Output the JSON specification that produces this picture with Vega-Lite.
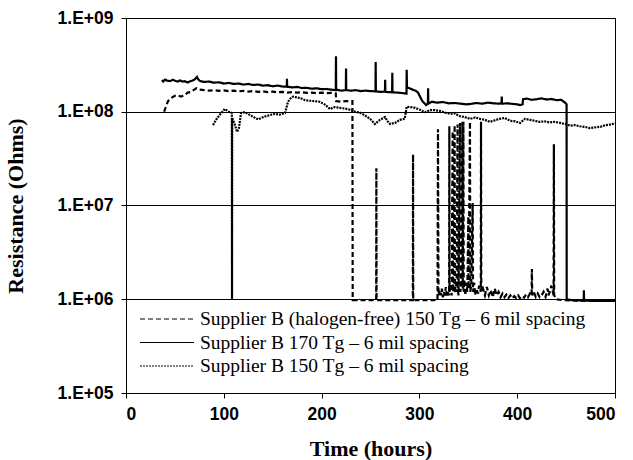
{
  "$schema": "https://vega.github.io/schema/vega-lite/v6.json",
  "width": 489,
  "height": 375,
  "autosize": {"type": "none"},
  "padding": {"left": 126, "top": 18, "right": 18, "bottom": 67},
  "background": "white",
  "config": {
    "view": {"stroke": "black", "strokeWidth": 1},
    "axis": {
      "domainColor": "black", "tickColor": "black", "labelColor": "black", "titleColor": "black",
      "labelFont": "Liberation Sans", "labelFontWeight": "bold", "labelFontSize": 17.5,
      "titleFont": "Liberation Serif", "titleFontWeight": "bold", "titleFontSize": 22,
      "tickSize": 5, "domainWidth": 1, "tickWidth": 1
    }
  },
  "data": {"values": [
    {"series":"Supplier B 170 Tg – 6 mil spacing","time":36.8,"resistance":2.18e8},
    {"series":"Supplier B 170 Tg – 6 mil spacing","time":38,"resistance":2.1e8},
    {"series":"Supplier B 170 Tg – 6 mil spacing","time":40,"resistance":2.2e8},
    {"series":"Supplier B 170 Tg – 6 mil spacing","time":42,"resistance":2.15e8},
    {"series":"Supplier B 170 Tg – 6 mil spacing","time":45,"resistance":2.12e8},
    {"series":"Supplier B 170 Tg – 6 mil spacing","time":48,"resistance":2.2e8},
    {"series":"Supplier B 170 Tg – 6 mil spacing","time":50,"resistance":2.14e8},
    {"series":"Supplier B 170 Tg – 6 mil spacing","time":53,"resistance":2.1e8},
    {"series":"Supplier B 170 Tg – 6 mil spacing","time":55,"resistance":2.16e8},
    {"series":"Supplier B 170 Tg – 6 mil spacing","time":58,"resistance":2.1e8},
    {"series":"Supplier B 170 Tg – 6 mil spacing","time":60,"resistance":2.12e8},
    {"series":"Supplier B 170 Tg – 6 mil spacing","time":63,"resistance":2.05e8},
    {"series":"Supplier B 170 Tg – 6 mil spacing","time":65,"resistance":2.1e8},
    {"series":"Supplier B 170 Tg – 6 mil spacing","time":68,"resistance":2.15e8},
    {"series":"Supplier B 170 Tg – 6 mil spacing","time":70,"resistance":2.2e8},
    {"series":"Supplier B 170 Tg – 6 mil spacing","time":72.6,"resistance":2.35e8},
    {"series":"Supplier B 170 Tg – 6 mil spacing","time":74,"resistance":2.2e8},
    {"series":"Supplier B 170 Tg – 6 mil spacing","time":76,"resistance":2.12e8},
    {"series":"Supplier B 170 Tg – 6 mil spacing","time":80,"resistance":2.08e8},
    {"series":"Supplier B 170 Tg – 6 mil spacing","time":85,"resistance":2.1e8},
    {"series":"Supplier B 170 Tg – 6 mil spacing","time":90,"resistance":2.04e8},
    {"series":"Supplier B 170 Tg – 6 mil spacing","time":95,"resistance":2.06e8},
    {"series":"Supplier B 170 Tg – 6 mil spacing","time":100,"resistance":2.0e8},
    {"series":"Supplier B 170 Tg – 6 mil spacing","time":105,"resistance":2.03e8},
    {"series":"Supplier B 170 Tg – 6 mil spacing","time":110,"resistance":1.98e8},
    {"series":"Supplier B 170 Tg – 6 mil spacing","time":115,"resistance":2.0e8},
    {"series":"Supplier B 170 Tg – 6 mil spacing","time":120,"resistance":1.95e8},
    {"series":"Supplier B 170 Tg – 6 mil spacing","time":125,"resistance":1.98e8},
    {"series":"Supplier B 170 Tg – 6 mil spacing","time":130,"resistance":1.93e8},
    {"series":"Supplier B 170 Tg – 6 mil spacing","time":135,"resistance":1.95e8},
    {"series":"Supplier B 170 Tg – 6 mil spacing","time":140,"resistance":1.9e8},
    {"series":"Supplier B 170 Tg – 6 mil spacing","time":145,"resistance":1.92e8},
    {"series":"Supplier B 170 Tg – 6 mil spacing","time":150,"resistance":1.87e8},
    {"series":"Supplier B 170 Tg – 6 mil spacing","time":155,"resistance":1.9e8},
    {"series":"Supplier B 170 Tg – 6 mil spacing","time":160,"resistance":1.86e8},
    {"series":"Supplier B 170 Tg – 6 mil spacing","time":164.4,"resistance":1.85e8},
    {"series":"Supplier B 170 Tg – 6 mil spacing","time":164.6,"resistance":2.25e8},
    {"series":"Supplier B 170 Tg – 6 mil spacing","time":164.8,"resistance":1.85e8},
    {"series":"Supplier B 170 Tg – 6 mil spacing","time":170,"resistance":1.82e8},
    {"series":"Supplier B 170 Tg – 6 mil spacing","time":175,"resistance":1.84e8},
    {"series":"Supplier B 170 Tg – 6 mil spacing","time":180,"resistance":1.79e8},
    {"series":"Supplier B 170 Tg – 6 mil spacing","time":185,"resistance":1.8e8},
    {"series":"Supplier B 170 Tg – 6 mil spacing","time":190,"resistance":1.76e8},
    {"series":"Supplier B 170 Tg – 6 mil spacing","time":195,"resistance":1.78e8},
    {"series":"Supplier B 170 Tg – 6 mil spacing","time":200,"resistance":1.74e8},
    {"series":"Supplier B 170 Tg – 6 mil spacing","time":205,"resistance":1.75e8},
    {"series":"Supplier B 170 Tg – 6 mil spacing","time":210,"resistance":1.72e8},
    {"series":"Supplier B 170 Tg – 6 mil spacing","time":214.5,"resistance":1.7e8},
    {"series":"Supplier B 170 Tg – 6 mil spacing","time":214.7,"resistance":3.9e8},
    {"series":"Supplier B 170 Tg – 6 mil spacing","time":214.9,"resistance":1.72e8},
    {"series":"Supplier B 170 Tg – 6 mil spacing","time":220,"resistance":1.68e8},
    {"series":"Supplier B 170 Tg – 6 mil spacing","time":224.8,"resistance":1.7e8},
    {"series":"Supplier B 170 Tg – 6 mil spacing","time":225,"resistance":2.9e8},
    {"series":"Supplier B 170 Tg – 6 mil spacing","time":225.2,"resistance":1.7e8},
    {"series":"Supplier B 170 Tg – 6 mil spacing","time":230,"resistance":1.68e8},
    {"series":"Supplier B 170 Tg – 6 mil spacing","time":235,"resistance":1.7e8},
    {"series":"Supplier B 170 Tg – 6 mil spacing","time":240,"resistance":1.66e8},
    {"series":"Supplier B 170 Tg – 6 mil spacing","time":245,"resistance":1.68e8},
    {"series":"Supplier B 170 Tg – 6 mil spacing","time":250,"resistance":1.66e8},
    {"series":"Supplier B 170 Tg – 6 mil spacing","time":255.1,"resistance":1.65e8},
    {"series":"Supplier B 170 Tg – 6 mil spacing","time":255.3,"resistance":3.4e8},
    {"series":"Supplier B 170 Tg – 6 mil spacing","time":255.5,"resistance":1.65e8},
    {"series":"Supplier B 170 Tg – 6 mil spacing","time":260,"resistance":1.63e8},
    {"series":"Supplier B 170 Tg – 6 mil spacing","time":264.8,"resistance":1.64e8},
    {"series":"Supplier B 170 Tg – 6 mil spacing","time":265,"resistance":2.2e8},
    {"series":"Supplier B 170 Tg – 6 mil spacing","time":265.2,"resistance":1.63e8},
    {"series":"Supplier B 170 Tg – 6 mil spacing","time":268,"resistance":1.62e8},
    {"series":"Supplier B 170 Tg – 6 mil spacing","time":272.1,"resistance":1.62e8},
    {"series":"Supplier B 170 Tg – 6 mil spacing","time":272.3,"resistance":2.6e8},
    {"series":"Supplier B 170 Tg – 6 mil spacing","time":272.5,"resistance":1.61e8},
    {"series":"Supplier B 170 Tg – 6 mil spacing","time":278,"resistance":1.6e8},
    {"series":"Supplier B 170 Tg – 6 mil spacing","time":283,"resistance":1.58e8},
    {"series":"Supplier B 170 Tg – 6 mil spacing","time":286.8,"resistance":1.56e8},
    {"series":"Supplier B 170 Tg – 6 mil spacing","time":287,"resistance":2.8e8},
    {"series":"Supplier B 170 Tg – 6 mil spacing","time":287.3,"resistance":1.82e8},
    {"series":"Supplier B 170 Tg – 6 mil spacing","time":290,"resistance":1.78e8},
    {"series":"Supplier B 170 Tg – 6 mil spacing","time":293,"resistance":1.72e8},
    {"series":"Supplier B 170 Tg – 6 mil spacing","time":296,"resistance":1.68e8},
    {"series":"Supplier B 170 Tg – 6 mil spacing","time":298.6,"resistance":1.6e8},
    {"series":"Supplier B 170 Tg – 6 mil spacing","time":300.6,"resistance":1.45e8},
    {"series":"Supplier B 170 Tg – 6 mil spacing","time":303,"resistance":1.3e8},
    {"series":"Supplier B 170 Tg – 6 mil spacing","time":306.8,"resistance":1.18e8},
    {"series":"Supplier B 170 Tg – 6 mil spacing","time":308.7,"resistance":1.22e8},
    {"series":"Supplier B 170 Tg – 6 mil spacing","time":308.9,"resistance":1.78e8},
    {"series":"Supplier B 170 Tg – 6 mil spacing","time":309.1,"resistance":1.22e8},
    {"series":"Supplier B 170 Tg – 6 mil spacing","time":312.9,"resistance":1.28e8},
    {"series":"Supplier B 170 Tg – 6 mil spacing","time":318,"resistance":1.25e8},
    {"series":"Supplier B 170 Tg – 6 mil spacing","time":324,"resistance":1.27e8},
    {"series":"Supplier B 170 Tg – 6 mil spacing","time":330,"resistance":1.23e8},
    {"series":"Supplier B 170 Tg – 6 mil spacing","time":336,"resistance":1.24e8},
    {"series":"Supplier B 170 Tg – 6 mil spacing","time":342,"resistance":1.22e8},
    {"series":"Supplier B 170 Tg – 6 mil spacing","time":348,"resistance":1.2e8},
    {"series":"Supplier B 170 Tg – 6 mil spacing","time":352,"resistance":1.21e8},
    {"series":"Supplier B 170 Tg – 6 mil spacing","time":358,"resistance":1.24e8},
    {"series":"Supplier B 170 Tg – 6 mil spacing","time":364,"resistance":1.22e8},
    {"series":"Supplier B 170 Tg – 6 mil spacing","time":370,"resistance":1.25e8},
    {"series":"Supplier B 170 Tg – 6 mil spacing","time":376,"resistance":1.23e8},
    {"series":"Supplier B 170 Tg – 6 mil spacing","time":382,"resistance":1.22e8},
    {"series":"Supplier B 170 Tg – 6 mil spacing","time":384,"resistance":1.24e8},
    {"series":"Supplier B 170 Tg – 6 mil spacing","time":384.2,"resistance":1.45e8},
    {"series":"Supplier B 170 Tg – 6 mil spacing","time":384.4,"resistance":1.22e8},
    {"series":"Supplier B 170 Tg – 6 mil spacing","time":390,"resistance":1.23e8},
    {"series":"Supplier B 170 Tg – 6 mil spacing","time":396,"resistance":1.21e8},
    {"series":"Supplier B 170 Tg – 6 mil spacing","time":400,"resistance":1.2e8},
    {"series":"Supplier B 170 Tg – 6 mil spacing","time":403,"resistance":1.18e8},
    {"series":"Supplier B 170 Tg – 6 mil spacing","time":405.5,"resistance":1.2e8},
    {"series":"Supplier B 170 Tg – 6 mil spacing","time":406,"resistance":1.36e8},
    {"series":"Supplier B 170 Tg – 6 mil spacing","time":410,"resistance":1.38e8},
    {"series":"Supplier B 170 Tg – 6 mil spacing","time":415,"resistance":1.34e8},
    {"series":"Supplier B 170 Tg – 6 mil spacing","time":420,"resistance":1.36e8},
    {"series":"Supplier B 170 Tg – 6 mil spacing","time":425,"resistance":1.39e8},
    {"series":"Supplier B 170 Tg – 6 mil spacing","time":430,"resistance":1.35e8},
    {"series":"Supplier B 170 Tg – 6 mil spacing","time":435,"resistance":1.37e8},
    {"series":"Supplier B 170 Tg – 6 mil spacing","time":440,"resistance":1.33e8},
    {"series":"Supplier B 170 Tg – 6 mil spacing","time":445,"resistance":1.34e8},
    {"series":"Supplier B 170 Tg – 6 mil spacing","time":449,"resistance":1.25e8},
    {"series":"Supplier B 170 Tg – 6 mil spacing","time":450.5,"resistance":1.2e8},
    {"series":"Supplier B 170 Tg – 6 mil spacing","time":450.6,"resistance":1.0e6},
    {"series":"Supplier B 170 Tg – 6 mil spacing","time":455,"resistance":9.8e5},
    {"series":"Supplier B 170 Tg – 6 mil spacing","time":460,"resistance":9.7e5},
    {"series":"Supplier B 170 Tg – 6 mil spacing","time":468,"resistance":9.7e5},
    {"series":"Supplier B 170 Tg – 6 mil spacing","time":468.2,"resistance":1.25e6},
    {"series":"Supplier B 170 Tg – 6 mil spacing","time":468.4,"resistance":9.7e5},
    {"series":"Supplier B 170 Tg – 6 mil spacing","time":480,"resistance":9.6e5},
    {"series":"Supplier B 170 Tg – 6 mil spacing","time":500,"resistance":9.6e5},

    {"series":"Supplier B (halogen-free) 150 Tg – 6 mil spacing","time":39,"resistance":1.0e8},
    {"series":"Supplier B (halogen-free) 150 Tg – 6 mil spacing","time":41,"resistance":1.15e8},
    {"series":"Supplier B (halogen-free) 150 Tg – 6 mil spacing","time":43,"resistance":1.3e8},
    {"series":"Supplier B (halogen-free) 150 Tg – 6 mil spacing","time":46,"resistance":1.4e8},
    {"series":"Supplier B (halogen-free) 150 Tg – 6 mil spacing","time":50,"resistance":1.48e8},
    {"series":"Supplier B (halogen-free) 150 Tg – 6 mil spacing","time":53,"resistance":1.5e8},
    {"series":"Supplier B (halogen-free) 150 Tg – 6 mil spacing","time":56,"resistance":1.45e8},
    {"series":"Supplier B (halogen-free) 150 Tg – 6 mil spacing","time":60,"resistance":1.5e8},
    {"series":"Supplier B (halogen-free) 150 Tg – 6 mil spacing","time":63,"resistance":1.6e8},
    {"series":"Supplier B (halogen-free) 150 Tg – 6 mil spacing","time":66,"resistance":1.62e8},
    {"series":"Supplier B (halogen-free) 150 Tg – 6 mil spacing","time":69,"resistance":1.7e8},
    {"series":"Supplier B (halogen-free) 150 Tg – 6 mil spacing","time":72,"resistance":1.78e8},
    {"series":"Supplier B (halogen-free) 150 Tg – 6 mil spacing","time":75,"resistance":1.72e8},
    {"series":"Supplier B (halogen-free) 150 Tg – 6 mil spacing","time":80,"resistance":1.7e8},
    {"series":"Supplier B (halogen-free) 150 Tg – 6 mil spacing","time":85,"resistance":1.68e8},
    {"series":"Supplier B (halogen-free) 150 Tg – 6 mil spacing","time":90,"resistance":1.7e8},
    {"series":"Supplier B (halogen-free) 150 Tg – 6 mil spacing","time":95,"resistance":1.67e8},
    {"series":"Supplier B (halogen-free) 150 Tg – 6 mil spacing","time":100,"resistance":1.69e8},
    {"series":"Supplier B (halogen-free) 150 Tg – 6 mil spacing","time":105,"resistance":1.66e8},
    {"series":"Supplier B (halogen-free) 150 Tg – 6 mil spacing","time":110,"resistance":1.68e8},
    {"series":"Supplier B (halogen-free) 150 Tg – 6 mil spacing","time":115,"resistance":1.65e8},
    {"series":"Supplier B (halogen-free) 150 Tg – 6 mil spacing","time":120,"resistance":1.67e8},
    {"series":"Supplier B (halogen-free) 150 Tg – 6 mil spacing","time":125,"resistance":1.64e8},
    {"series":"Supplier B (halogen-free) 150 Tg – 6 mil spacing","time":130,"resistance":1.66e8},
    {"series":"Supplier B (halogen-free) 150 Tg – 6 mil spacing","time":135,"resistance":1.63e8},
    {"series":"Supplier B (halogen-free) 150 Tg – 6 mil spacing","time":140,"resistance":1.65e8},
    {"series":"Supplier B (halogen-free) 150 Tg – 6 mil spacing","time":145,"resistance":1.62e8},
    {"series":"Supplier B (halogen-free) 150 Tg – 6 mil spacing","time":150,"resistance":1.64e8},
    {"series":"Supplier B (halogen-free) 150 Tg – 6 mil spacing","time":155,"resistance":1.61e8},
    {"series":"Supplier B (halogen-free) 150 Tg – 6 mil spacing","time":160,"resistance":1.63e8},
    {"series":"Supplier B (halogen-free) 150 Tg – 6 mil spacing","time":165,"resistance":1.6e8},
    {"series":"Supplier B (halogen-free) 150 Tg – 6 mil spacing","time":170,"resistance":1.62e8},
    {"series":"Supplier B (halogen-free) 150 Tg – 6 mil spacing","time":175,"resistance":1.6e8},
    {"series":"Supplier B (halogen-free) 150 Tg – 6 mil spacing","time":180,"resistance":1.61e8},
    {"series":"Supplier B (halogen-free) 150 Tg – 6 mil spacing","time":185,"resistance":1.59e8},
    {"series":"Supplier B (halogen-free) 150 Tg – 6 mil spacing","time":190,"resistance":1.6e8},
    {"series":"Supplier B (halogen-free) 150 Tg – 6 mil spacing","time":195,"resistance":1.58e8},
    {"series":"Supplier B (halogen-free) 150 Tg – 6 mil spacing","time":200,"resistance":1.6e8},
    {"series":"Supplier B (halogen-free) 150 Tg – 6 mil spacing","time":205,"resistance":1.58e8},
    {"series":"Supplier B (halogen-free) 150 Tg – 6 mil spacing","time":210,"resistance":1.59e8},
    {"series":"Supplier B (halogen-free) 150 Tg – 6 mil spacing","time":214.5,"resistance":1.57e8},
    {"series":"Supplier B (halogen-free) 150 Tg – 6 mil spacing","time":214.8,"resistance":1.3e8},
    {"series":"Supplier B (halogen-free) 150 Tg – 6 mil spacing","time":220,"resistance":1.28e8},
    {"series":"Supplier B (halogen-free) 150 Tg – 6 mil spacing","time":225,"resistance":1.3e8},
    {"series":"Supplier B (halogen-free) 150 Tg – 6 mil spacing","time":231.5,"resistance":1.3e8},
    {"series":"Supplier B (halogen-free) 150 Tg – 6 mil spacing","time":231.8,"resistance":9.8e5},
    {"series":"Supplier B (halogen-free) 150 Tg – 6 mil spacing","time":255.8,"resistance":9.8e5},
    {"series":"Supplier B (halogen-free) 150 Tg – 6 mil spacing","time":256,"resistance":2.5e7},
    {"series":"Supplier B (halogen-free) 150 Tg – 6 mil spacing","time":256.2,"resistance":9.8e5},
    {"series":"Supplier B (halogen-free) 150 Tg – 6 mil spacing","time":293.3,"resistance":9.8e5},
    {"series":"Supplier B (halogen-free) 150 Tg – 6 mil spacing","time":293.5,"resistance":3.5e7},
    {"series":"Supplier B (halogen-free) 150 Tg – 6 mil spacing","time":293.7,"resistance":9.8e5},
    {"series":"Supplier B (halogen-free) 150 Tg – 6 mil spacing","time":318.5,"resistance":9.8e5},
    {"series":"Supplier B (halogen-free) 150 Tg – 6 mil spacing","time":319,"resistance":6.5e7},
    {"series":"Supplier B (halogen-free) 150 Tg – 6 mil spacing","time":319.5,"resistance":1.1e6},
    {"series":"Supplier B (halogen-free) 150 Tg – 6 mil spacing","time":321,"resistance":1.25e6},
    {"series":"Supplier B (halogen-free) 150 Tg – 6 mil spacing","time":322,"resistance":1.1e6},
    {"series":"Supplier B (halogen-free) 150 Tg – 6 mil spacing","time":323,"resistance":1.3e6},
    {"series":"Supplier B (halogen-free) 150 Tg – 6 mil spacing","time":324,"resistance":1.05e6},
    {"series":"Supplier B (halogen-free) 150 Tg – 6 mil spacing","time":325,"resistance":1.2e6},
    {"series":"Supplier B (halogen-free) 150 Tg – 6 mil spacing","time":326,"resistance":1.1e6},
    {"series":"Supplier B (halogen-free) 150 Tg – 6 mil spacing","time":327,"resistance":1.35e6},
    {"series":"Supplier B (halogen-free) 150 Tg – 6 mil spacing","time":328,"resistance":1.1e6},
    {"series":"Supplier B (halogen-free) 150 Tg – 6 mil spacing","time":329,"resistance":1.2e6},
    {"series":"Supplier B (halogen-free) 150 Tg – 6 mil spacing","time":330.4,"resistance":1.1e6},
    {"series":"Supplier B (halogen-free) 150 Tg – 6 mil spacing","time":330.6,"resistance":7.0e7},
    {"series":"Supplier B (halogen-free) 150 Tg – 6 mil spacing","time":330.8,"resistance":1.2e6},
    {"series":"Supplier B (halogen-free) 150 Tg – 6 mil spacing","time":332,"resistance":1.4e6},
    {"series":"Supplier B (halogen-free) 150 Tg – 6 mil spacing","time":333,"resistance":1.1e6},
    {"series":"Supplier B (halogen-free) 150 Tg – 6 mil spacing","time":334,"resistance":6.2e7},
    {"series":"Supplier B (halogen-free) 150 Tg – 6 mil spacing","time":334.3,"resistance":1.2e6},
    {"series":"Supplier B (halogen-free) 150 Tg – 6 mil spacing","time":335,"resistance":1.3e6},
    {"series":"Supplier B (halogen-free) 150 Tg – 6 mil spacing","time":336,"resistance":7.2e7},
    {"series":"Supplier B (halogen-free) 150 Tg – 6 mil spacing","time":336.3,"resistance":1.15e6},
    {"series":"Supplier B (halogen-free) 150 Tg – 6 mil spacing","time":337,"resistance":1.5e6},
    {"series":"Supplier B (halogen-free) 150 Tg – 6 mil spacing","time":338,"resistance":1.2e6},
    {"series":"Supplier B (halogen-free) 150 Tg – 6 mil spacing","time":339,"resistance":7.3e7},
    {"series":"Supplier B (halogen-free) 150 Tg – 6 mil spacing","time":339.3,"resistance":1.3e6},
    {"series":"Supplier B (halogen-free) 150 Tg – 6 mil spacing","time":340,"resistance":1.1e6},
    {"series":"Supplier B (halogen-free) 150 Tg – 6 mil spacing","time":341.5,"resistance":7.6e7},
    {"series":"Supplier B (halogen-free) 150 Tg – 6 mil spacing","time":341.8,"resistance":1.2e6},
    {"series":"Supplier B (halogen-free) 150 Tg – 6 mil spacing","time":343,"resistance":1.4e6},
    {"series":"Supplier B (halogen-free) 150 Tg – 6 mil spacing","time":344,"resistance":7.8e7},
    {"series":"Supplier B (halogen-free) 150 Tg – 6 mil spacing","time":344.3,"resistance":1.3e6},
    {"series":"Supplier B (halogen-free) 150 Tg – 6 mil spacing","time":345,"resistance":7.8e7},
    {"series":"Supplier B (halogen-free) 150 Tg – 6 mil spacing","time":345.3,"resistance":1.2e6},
    {"series":"Supplier B (halogen-free) 150 Tg – 6 mil spacing","time":346,"resistance":1.6e6},
    {"series":"Supplier B (halogen-free) 150 Tg – 6 mil spacing","time":347,"resistance":1.1e6},
    {"series":"Supplier B (halogen-free) 150 Tg – 6 mil spacing","time":348,"resistance":1.5e6},
    {"series":"Supplier B (halogen-free) 150 Tg – 6 mil spacing","time":349,"resistance":1.2e6},
    {"series":"Supplier B (halogen-free) 150 Tg – 6 mil spacing","time":350,"resistance":7.6e6},
    {"series":"Supplier B (halogen-free) 150 Tg – 6 mil spacing","time":350.3,"resistance":1.3e6},
    {"series":"Supplier B (halogen-free) 150 Tg – 6 mil spacing","time":351.7,"resistance":7.8e7},
    {"series":"Supplier B (halogen-free) 150 Tg – 6 mil spacing","time":352,"resistance":1.2e6},
    {"series":"Supplier B (halogen-free) 150 Tg – 6 mil spacing","time":353,"resistance":1.4e6},
    {"series":"Supplier B (halogen-free) 150 Tg – 6 mil spacing","time":354.5,"resistance":1.06e7},
    {"series":"Supplier B (halogen-free) 150 Tg – 6 mil spacing","time":354.8,"resistance":1.2e6},
    {"series":"Supplier B (halogen-free) 150 Tg – 6 mil spacing","time":356,"resistance":1.5e6},
    {"series":"Supplier B (halogen-free) 150 Tg – 6 mil spacing","time":357,"resistance":1.1e6},
    {"series":"Supplier B (halogen-free) 150 Tg – 6 mil spacing","time":358,"resistance":1.3e6},
    {"series":"Supplier B (halogen-free) 150 Tg – 6 mil spacing","time":360,"resistance":1.15e6},
    {"series":"Supplier B (halogen-free) 150 Tg – 6 mil spacing","time":361,"resistance":1.4e6},
    {"series":"Supplier B (halogen-free) 150 Tg – 6 mil spacing","time":362.8,"resistance":1.2e6},
    {"series":"Supplier B (halogen-free) 150 Tg – 6 mil spacing","time":363,"resistance":7.8e7},
    {"series":"Supplier B (halogen-free) 150 Tg – 6 mil spacing","time":363.3,"resistance":1.2e6},
    {"series":"Supplier B (halogen-free) 150 Tg – 6 mil spacing","time":365,"resistance":1.3e6},
    {"series":"Supplier B (halogen-free) 150 Tg – 6 mil spacing","time":367,"resistance":1.1e6},
    {"series":"Supplier B (halogen-free) 150 Tg – 6 mil spacing","time":369,"resistance":1.35e6},
    {"series":"Supplier B (halogen-free) 150 Tg – 6 mil spacing","time":371,"resistance":1.1e6},
    {"series":"Supplier B (halogen-free) 150 Tg – 6 mil spacing","time":373,"resistance":1.25e6},
    {"series":"Supplier B (halogen-free) 150 Tg – 6 mil spacing","time":375,"resistance":1.05e6},
    {"series":"Supplier B (halogen-free) 150 Tg – 6 mil spacing","time":377,"resistance":1.3e6},
    {"series":"Supplier B (halogen-free) 150 Tg – 6 mil spacing","time":379,"resistance":1.1e6},
    {"series":"Supplier B (halogen-free) 150 Tg – 6 mil spacing","time":381,"resistance":1.2e6},
    {"series":"Supplier B (halogen-free) 150 Tg – 6 mil spacing","time":383,"resistance":1.05e6},
    {"series":"Supplier B (halogen-free) 150 Tg – 6 mil spacing","time":385,"resistance":1.15e6},
    {"series":"Supplier B (halogen-free) 150 Tg – 6 mil spacing","time":387,"resistance":1.05e6},
    {"series":"Supplier B (halogen-free) 150 Tg – 6 mil spacing","time":389,"resistance":1.12e6},
    {"series":"Supplier B (halogen-free) 150 Tg – 6 mil spacing","time":391,"resistance":1.03e6},
    {"series":"Supplier B (halogen-free) 150 Tg – 6 mil spacing","time":393,"resistance":1.1e6},
    {"series":"Supplier B (halogen-free) 150 Tg – 6 mil spacing","time":395,"resistance":1.02e6},
    {"series":"Supplier B (halogen-free) 150 Tg – 6 mil spacing","time":397,"resistance":1.08e6},
    {"series":"Supplier B (halogen-free) 150 Tg – 6 mil spacing","time":399,"resistance":1.03e6},
    {"series":"Supplier B (halogen-free) 150 Tg – 6 mil spacing","time":401,"resistance":1.1e6},
    {"series":"Supplier B (halogen-free) 150 Tg – 6 mil spacing","time":403,"resistance":1.02e6},
    {"series":"Supplier B (halogen-free) 150 Tg – 6 mil spacing","time":405,"resistance":1.08e6},
    {"series":"Supplier B (halogen-free) 150 Tg – 6 mil spacing","time":407,"resistance":1.04e6},
    {"series":"Supplier B (halogen-free) 150 Tg – 6 mil spacing","time":409,"resistance":1.12e6},
    {"series":"Supplier B (halogen-free) 150 Tg – 6 mil spacing","time":411,"resistance":1.05e6},
    {"series":"Supplier B (halogen-free) 150 Tg – 6 mil spacing","time":413,"resistance":1.15e6},
    {"series":"Supplier B (halogen-free) 150 Tg – 6 mil spacing","time":414.7,"resistance":1.1e6},
    {"series":"Supplier B (halogen-free) 150 Tg – 6 mil spacing","time":415,"resistance":2.1e6},
    {"series":"Supplier B (halogen-free) 150 Tg – 6 mil spacing","time":415.4,"resistance":1.1e6},
    {"series":"Supplier B (halogen-free) 150 Tg – 6 mil spacing","time":417,"resistance":1.2e6},
    {"series":"Supplier B (halogen-free) 150 Tg – 6 mil spacing","time":419,"resistance":1.06e6},
    {"series":"Supplier B (halogen-free) 150 Tg – 6 mil spacing","time":421,"resistance":1.15e6},
    {"series":"Supplier B (halogen-free) 150 Tg – 6 mil spacing","time":423,"resistance":1.05e6},
    {"series":"Supplier B (halogen-free) 150 Tg – 6 mil spacing","time":425,"resistance":1.1e6},
    {"series":"Supplier B (halogen-free) 150 Tg – 6 mil spacing","time":427,"resistance":1.2e6},
    {"series":"Supplier B (halogen-free) 150 Tg – 6 mil spacing","time":429,"resistance":1.06e6},
    {"series":"Supplier B (halogen-free) 150 Tg – 6 mil spacing","time":431,"resistance":1.3e6},
    {"series":"Supplier B (halogen-free) 150 Tg – 6 mil spacing","time":432,"resistance":1.1e6},
    {"series":"Supplier B (halogen-free) 150 Tg – 6 mil spacing","time":434,"resistance":1.25e6},
    {"series":"Supplier B (halogen-free) 150 Tg – 6 mil spacing","time":435,"resistance":1.4e6},
    {"series":"Supplier B (halogen-free) 150 Tg – 6 mil spacing","time":437.2,"resistance":1.1e6},
    {"series":"Supplier B (halogen-free) 150 Tg – 6 mil spacing","time":437.5,"resistance":4.5e7},
    {"series":"Supplier B (halogen-free) 150 Tg – 6 mil spacing","time":437.8,"resistance":1.1e6},
    {"series":"Supplier B (halogen-free) 150 Tg – 6 mil spacing","time":440,"resistance":1.0e6},
    {"series":"Supplier B (halogen-free) 150 Tg – 6 mil spacing","time":446,"resistance":9.8e5},
    {"series":"Supplier B (halogen-free) 150 Tg – 6 mil spacing","time":470,"resistance":9.6e5},
    {"series":"Supplier B (halogen-free) 150 Tg – 6 mil spacing","time":500,"resistance":9.6e5},

    {"series":"Supplier B 150 Tg – 6 mil spacing","time":89,"resistance":7.2e7},
    {"series":"Supplier B 150 Tg – 6 mil spacing","time":92,"resistance":8.2e7},
    {"series":"Supplier B 150 Tg – 6 mil spacing","time":96,"resistance":9.3e7},
    {"series":"Supplier B 150 Tg – 6 mil spacing","time":101,"resistance":1.07e8},
    {"series":"Supplier B 150 Tg – 6 mil spacing","time":105,"resistance":1.0e8},
    {"series":"Supplier B 150 Tg – 6 mil spacing","time":108.2,"resistance":9.7e7},
    {"series":"Supplier B 150 Tg – 6 mil spacing","time":108.4,"resistance":1.0e6},
    {"series":"Supplier B 150 Tg – 6 mil spacing","time":108.6,"resistance":8.6e7},
    {"series":"Supplier B 150 Tg – 6 mil spacing","time":111.5,"resistance":7.2e7},
    {"series":"Supplier B 150 Tg – 6 mil spacing","time":113.5,"resistance":6.1e7},
    {"series":"Supplier B 150 Tg – 6 mil spacing","time":115.5,"resistance":6.7e7},
    {"series":"Supplier B 150 Tg – 6 mil spacing","time":117.6,"resistance":9.7e7},
    {"series":"Supplier B 150 Tg – 6 mil spacing","time":121.7,"resistance":9.9e7},
    {"series":"Supplier B 150 Tg – 6 mil spacing","time":126.8,"resistance":9.2e7},
    {"series":"Supplier B 150 Tg – 6 mil spacing","time":132,"resistance":8.6e7},
    {"series":"Supplier B 150 Tg – 6 mil spacing","time":135,"resistance":8.3e7},
    {"series":"Supplier B 150 Tg – 6 mil spacing","time":142,"resistance":8.9e7},
    {"series":"Supplier B 150 Tg – 6 mil spacing","time":147,"resistance":9.2e7},
    {"series":"Supplier B 150 Tg – 6 mil spacing","time":152,"resistance":9.5e7},
    {"series":"Supplier B 150 Tg – 6 mil spacing","time":157,"resistance":9.3e7},
    {"series":"Supplier B 150 Tg – 6 mil spacing","time":162.6,"resistance":9.7e7},
    {"series":"Supplier B 150 Tg – 6 mil spacing","time":165.6,"resistance":1.27e8},
    {"series":"Supplier B 150 Tg – 6 mil spacing","time":167.7,"resistance":1.37e8},
    {"series":"Supplier B 150 Tg – 6 mil spacing","time":170.8,"resistance":1.45e8},
    {"series":"Supplier B 150 Tg – 6 mil spacing","time":178,"resistance":1.4e8},
    {"series":"Supplier B 150 Tg – 6 mil spacing","time":183,"resistance":1.33e8},
    {"series":"Supplier B 150 Tg – 6 mil spacing","time":188,"resistance":1.31e8},
    {"series":"Supplier B 150 Tg – 6 mil spacing","time":198,"resistance":1.28e8},
    {"series":"Supplier B 150 Tg – 6 mil spacing","time":203,"resistance":1.2e8},
    {"series":"Supplier B 150 Tg – 6 mil spacing","time":208.6,"resistance":1.07e8},
    {"series":"Supplier B 150 Tg – 6 mil spacing","time":213,"resistance":1.12e8},
    {"series":"Supplier B 150 Tg – 6 mil spacing","time":218.8,"resistance":1.1e8},
    {"series":"Supplier B 150 Tg – 6 mil spacing","time":224,"resistance":1.08e8},
    {"series":"Supplier B 150 Tg – 6 mil spacing","time":229,"resistance":1.05e8},
    {"series":"Supplier B 150 Tg – 6 mil spacing","time":234,"resistance":1.0e8},
    {"series":"Supplier B 150 Tg – 6 mil spacing","time":239,"resistance":9.8e7},
    {"series":"Supplier B 150 Tg – 6 mil spacing","time":244,"resistance":9.2e7},
    {"series":"Supplier B 150 Tg – 6 mil spacing","time":249.5,"resistance":8.4e7},
    {"series":"Supplier B 150 Tg – 6 mil spacing","time":254.6,"resistance":7.4e7},
    {"series":"Supplier B 150 Tg – 6 mil spacing","time":259.7,"resistance":8.2e7},
    {"series":"Supplier B 150 Tg – 6 mil spacing","time":264.8,"resistance":8.8e7},
    {"series":"Supplier B 150 Tg – 6 mil spacing","time":267,"resistance":8.0e7},
    {"series":"Supplier B 150 Tg – 6 mil spacing","time":270,"resistance":7.4e7},
    {"series":"Supplier B 150 Tg – 6 mil spacing","time":275,"resistance":7.6e7},
    {"series":"Supplier B 150 Tg – 6 mil spacing","time":280,"resistance":8.2e7},
    {"series":"Supplier B 150 Tg – 6 mil spacing","time":285,"resistance":8.4e7},
    {"series":"Supplier B 150 Tg – 6 mil spacing","time":287,"resistance":1.13e8},
    {"series":"Supplier B 150 Tg – 6 mil spacing","time":291,"resistance":1.12e8},
    {"series":"Supplier B 150 Tg – 6 mil spacing","time":295.5,"resistance":1.1e8},
    {"series":"Supplier B 150 Tg – 6 mil spacing","time":300.6,"resistance":1.05e8},
    {"series":"Supplier B 150 Tg – 6 mil spacing","time":305.7,"resistance":9.9e7},
    {"series":"Supplier B 150 Tg – 6 mil spacing","time":310.8,"resistance":1.04e8},
    {"series":"Supplier B 150 Tg – 6 mil spacing","time":316,"resistance":1.04e8},
    {"series":"Supplier B 150 Tg – 6 mil spacing","time":321,"resistance":1.02e8},
    {"series":"Supplier B 150 Tg – 6 mil spacing","time":326,"resistance":9.8e7},
    {"series":"Supplier B 150 Tg – 6 mil spacing","time":331,"resistance":9.5e7},
    {"series":"Supplier B 150 Tg – 6 mil spacing","time":336,"resistance":9.6e7},
    {"series":"Supplier B 150 Tg – 6 mil spacing","time":341,"resistance":9.0e7},
    {"series":"Supplier B 150 Tg – 6 mil spacing","time":346,"resistance":8.8e7},
    {"series":"Supplier B 150 Tg – 6 mil spacing","time":352,"resistance":8.4e7},
    {"series":"Supplier B 150 Tg – 6 mil spacing","time":357,"resistance":8.7e7},
    {"series":"Supplier B 150 Tg – 6 mil spacing","time":362,"resistance":8.4e7},
    {"series":"Supplier B 150 Tg – 6 mil spacing","time":367,"resistance":8.2e7},
    {"series":"Supplier B 150 Tg – 6 mil spacing","time":372,"resistance":7.8e7},
    {"series":"Supplier B 150 Tg – 6 mil spacing","time":377,"resistance":8.1e7},
    {"series":"Supplier B 150 Tg – 6 mil spacing","time":382,"resistance":8.4e7},
    {"series":"Supplier B 150 Tg – 6 mil spacing","time":387,"resistance":8.6e7},
    {"series":"Supplier B 150 Tg – 6 mil spacing","time":393,"resistance":8.0e7},
    {"series":"Supplier B 150 Tg – 6 mil spacing","time":398,"resistance":7.9e7},
    {"series":"Supplier B 150 Tg – 6 mil spacing","time":403,"resistance":7.6e7},
    {"series":"Supplier B 150 Tg – 6 mil spacing","time":408,"resistance":8.4e7},
    {"series":"Supplier B 150 Tg – 6 mil spacing","time":413,"resistance":8.2e7},
    {"series":"Supplier B 150 Tg – 6 mil spacing","time":418,"resistance":8.0e7},
    {"series":"Supplier B 150 Tg – 6 mil spacing","time":423,"resistance":7.8e7},
    {"series":"Supplier B 150 Tg – 6 mil spacing","time":428,"resistance":7.9e7},
    {"series":"Supplier B 150 Tg – 6 mil spacing","time":433,"resistance":7.7e7},
    {"series":"Supplier B 150 Tg – 6 mil spacing","time":438,"resistance":7.8e7},
    {"series":"Supplier B 150 Tg – 6 mil spacing","time":444,"resistance":7.6e7},
    {"series":"Supplier B 150 Tg – 6 mil spacing","time":449,"resistance":7.4e7},
    {"series":"Supplier B 150 Tg – 6 mil spacing","time":454,"resistance":7.1e7},
    {"series":"Supplier B 150 Tg – 6 mil spacing","time":459,"resistance":7.2e7},
    {"series":"Supplier B 150 Tg – 6 mil spacing","time":464,"resistance":7.0e7},
    {"series":"Supplier B 150 Tg – 6 mil spacing","time":469,"resistance":6.9e7},
    {"series":"Supplier B 150 Tg – 6 mil spacing","time":474,"resistance":6.7e7},
    {"series":"Supplier B 150 Tg – 6 mil spacing","time":479,"resistance":6.8e7},
    {"series":"Supplier B 150 Tg – 6 mil spacing","time":485,"resistance":6.9e7},
    {"series":"Supplier B 150 Tg – 6 mil spacing","time":490,"resistance":7.2e7},
    {"series":"Supplier B 150 Tg – 6 mil spacing","time":495,"resistance":7.3e7},
    {"series":"Supplier B 150 Tg – 6 mil spacing","time":500,"resistance":7.5e7}
  ]},
  "mark": {"type": "line", "color": "black", "strokeWidth": 2.2, "clip": true},
  "encoding": {
    "x": {
      "field": "time", "type": "quantitative",
      "scale": {"domain": [0, 500], "nice": false},
      "axis": {"title": "Time (hours)", "values": [0, 100, 200, 300, 400, 500], "grid": false, "labelPadding": 7, "titlePadding": 16}
    },
    "y": {
      "field": "resistance", "type": "quantitative",
      "scale": {"type": "log", "domain": [100000, 1000000000], "nice": false},
      "axis": {
        "title": "Resistance (Ohms)",
        "values": [100000, 1000000, 10000000, 100000000, 1000000000],
        "labelExpr": "'1.E+0' + format(log(datum.value)/LN10, '.0f')",
        "grid": true, "gridColor": "black", "gridOpacity": 1, "gridWidth": 1,
        "labelPadding": 8, "titlePadding": 30
      }
    },
    "strokeDash": {
      "field": "series", "type": "nominal",
      "scale": {
        "domain": ["Supplier B (halogen-free) 150 Tg – 6 mil spacing", "Supplier B 170 Tg – 6 mil spacing", "Supplier B 150 Tg – 6 mil spacing"],
        "range": [[5, 3], [1, 0], [2, 1]]
      },
      "legend": {
        "title": null, "orient": "none", "legendX": 31, "legendY": 291,
        "symbolType": "M-3,0H3", "symbolSize": 324, "symbolStrokeColor": "black", "symbolStrokeWidth": 1.2,
        "labelFont": "Liberation Serif", "labelFontSize": 19.5, "labelColor": "black", "labelOffset": 23,
        "labelLimit": 500, "rowPadding": 3.5
      }
    }
  }
}
